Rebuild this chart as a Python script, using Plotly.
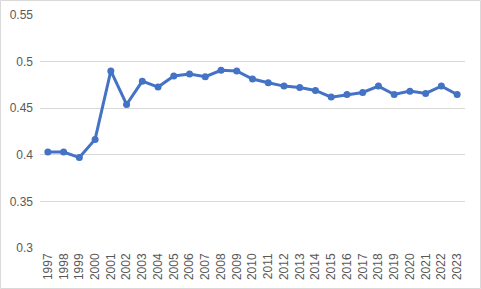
import plotly.graph_objects as go

years = [str(y) for y in range(1997, 2024)]
values = [0.403, 0.403, 0.397, 0.4165, 0.490, 0.454, 0.479, 0.4727, 0.4845, 0.4867,
          0.4838, 0.4906, 0.490, 0.4813, 0.4773, 0.4737, 0.4723, 0.469, 0.4619, 0.4647,
          0.4669, 0.4737, 0.4647, 0.4683, 0.4658, 0.4737, 0.4647]
y_ticks = [0.3, 0.35, 0.4, 0.45, 0.5, 0.55]
y_labels = ["0.3", "0.35", "0.4", "0.45", "0.5", "0.55"]

W, H = 481, 289
L, R, T, B = 40, 16, 15, 41
pw, ph = W - L - R, H - T - B

fig = go.Figure(go.Scatter(
    x=years, y=values, mode="lines+markers",
    line=dict(color="#4472C4", width=3),
    marker=dict(color="#4472C4", size=7),
    cliponaxis=False,
))
fig.update_layout(
    width=W, height=H,
    margin=dict(l=L, r=R, t=T, b=B, autoexpand=False),
    paper_bgcolor="white", plot_bgcolor="white",
    showlegend=False,
    font=dict(family="Liberation Sans, Arial, sans-serif", size=12, color="#595959"),
    xaxis=dict(type="category", range=[-0.5, len(years) - 0.5], tickangle=-90,
               showgrid=False, showline=False, zeroline=False,
               ticks="", ticklabelstandoff=2, automargin=False),
    yaxis=dict(range=[0.3, 0.55], tickvals=y_ticks, ticktext=y_labels,
               showgrid=True, gridcolor="#d9d9d9", gridwidth=1, zeroline=False,
               showline=False, ticks="", ticklabelstandoff=6, automargin=False),
    shapes=[dict(type="rect", xref="paper", yref="paper",
                 x0=(-L + 0.5) / pw, x1=1 + (R - 0.5) / pw,
                 y0=(-B + 0.5) / ph, y1=1 + (T - 0.5) / ph,
                 line=dict(color="#d9d9d9", width=1), layer="below")],
)
fig.write_html("out.html")
